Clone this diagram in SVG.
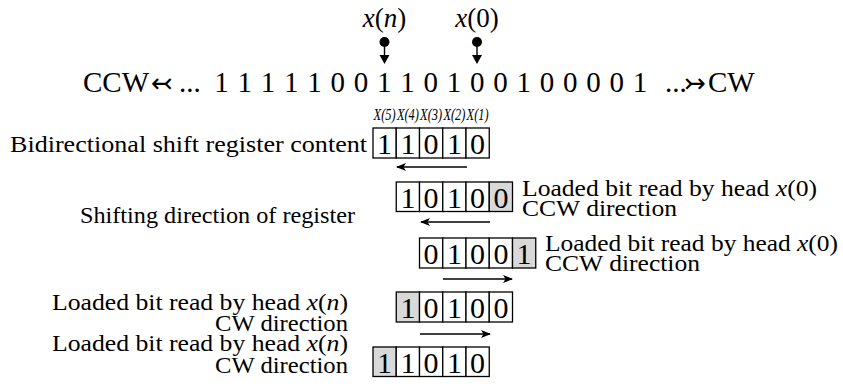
<svg xmlns="http://www.w3.org/2000/svg" width="843" height="387" viewBox="0 0 843 387">
<style>
  .big { font-size: 29px; }
  .lab { font-size: 24px; }
  .dig { font-size: 30px; text-anchor: middle; }
  .xl { font-size: 17px; font-style: italic; text-anchor: middle; }
  .cell { fill: #fff; stroke: #000; stroke-width: 1.3; }
  .g { fill: #d9d9d9; }
  .conn { stroke: #000; stroke-width: 1.4; fill: none; }
</style>
<defs>
  <marker id="ah" viewBox="0 0 10 8" refX="9" refY="4" markerWidth="10" markerHeight="8" markerUnits="userSpaceOnUse" orient="auto">
    <path d="M0,0 L10,4 L0,8 L2.5,4 Z" fill="#000"/>
  </marker>
</defs>
<g font-family="Liberation Serif, Times New Roman, serif" fill="#000">

<g id="tape">
  <text class="big" x="83" y="92">CCW</text>
  <text x="151" y="92" font-family="DejaVu Sans, sans-serif" font-size="26">↢</text>
  <text class="big" x="179" y="92">...</text>
  <g class="big" text-anchor="middle">
    <text x="221.5" y="92">1</text>
    <text x="244.75" y="92">1</text>
    <text x="268" y="92">1</text>
    <text x="291.25" y="92">1</text>
    <text x="314.5" y="92">1</text>
    <text x="337.75" y="92">0</text>
    <text x="361" y="92">0</text>
    <text x="384.25" y="92">1</text>
    <text x="407.5" y="92">1</text>
    <text x="430.75" y="92">0</text>
    <text x="454" y="92">1</text>
    <text x="477.25" y="92">0</text>
    <text x="500.5" y="92">0</text>
    <text x="523.75" y="92">1</text>
    <text x="547" y="92">0</text>
    <text x="570.25" y="92">0</text>
    <text x="593.5" y="92">0</text>
    <text x="616.75" y="92">0</text>
    <text x="640" y="92">1</text>
  </g>
  <text class="big" x="665" y="92">...</text>
  <text x="684" y="92" font-family="DejaVu Sans, sans-serif" font-size="26">↣</text>
  <text class="big" x="708" y="92">CW</text>
</g>

<g id="head-xn">
  <text x="384.5" y="27" font-size="27" text-anchor="middle"><tspan font-style="italic">x</tspan>(<tspan font-style="italic">n</tspan>)</text>
  <circle cx="384.5" cy="42" r="5" fill="#000"/>
  <line x1="384.5" y1="42" x2="384.5" y2="56" class="conn"/>
  <path d="M379.5,55 L389.5,55 L384.5,64 Z" fill="#000"/>
</g>
<g id="head-x0">
  <text x="477" y="27" font-size="27" text-anchor="middle"><tspan font-style="italic">x</tspan>(0)</text>
  <circle cx="477" cy="42" r="5" fill="#000"/>
  <line x1="477" y1="42" x2="477" y2="56" class="conn"/>
  <path d="M472,55 L482,55 L477,64 Z" fill="#000"/>
</g>

<g id="reg1">
  <text class="lab" x="10" y="152" textLength="357" lengthAdjust="spacingAndGlyphs">Bidirectional shift register content</text>
  <g class="xl">
    <text x="384.6" y="120" textLength="22" lengthAdjust="spacingAndGlyphs">X(5)</text>
    <text x="407.9" y="120" textLength="22" lengthAdjust="spacingAndGlyphs">X(4)</text>
    <text x="431.1" y="120" textLength="22" lengthAdjust="spacingAndGlyphs">X(3)</text>
    <text x="454.4" y="120" textLength="22" lengthAdjust="spacingAndGlyphs">X(2)</text>
    <text x="477.6" y="120" textLength="22" lengthAdjust="spacingAndGlyphs">X(1)</text>
  </g>
  <rect class="cell" x="373" y="128" width="23.25" height="30"/>
  <rect class="cell" x="396.25" y="128" width="23.25" height="30"/>
  <rect class="cell" x="419.5" y="128" width="23.25" height="30"/>
  <rect class="cell" x="442.75" y="128" width="23.25" height="30"/>
  <rect class="cell" x="466" y="128" width="23.25" height="30"/>
  <g class="dig">
    <text x="384.6" y="154">1</text><text x="407.9" y="154">1</text><text x="431.1" y="154">0</text><text x="454.4" y="154">1</text><text x="477.6" y="154">0</text>
  </g>
</g>

<g id="reg2">
  <rect class="cell" x="396.25" y="182" width="23.25" height="29.5"/>
  <rect class="cell" x="419.5" y="182" width="23.25" height="29.5"/>
  <rect class="cell" x="442.75" y="182" width="23.25" height="29.5"/>
  <rect class="cell" x="466" y="182" width="23.25" height="29.5"/>
  <rect class="cell g" x="489.25" y="182" width="23.25" height="29.5"/>
  <g class="dig">
    <text x="407.9" y="208">1</text><text x="431.1" y="208">0</text><text x="454.4" y="208">1</text><text x="477.6" y="208">0</text><text x="500.9" y="208">0</text>
  </g>
  <text class="lab" x="522" y="196" textLength="295" lengthAdjust="spacingAndGlyphs">Loaded bit read by head <tspan font-style="italic">x</tspan>(0)</text>
  <text class="lab" x="522" y="216" textLength="155" lengthAdjust="spacingAndGlyphs">CCW direction</text>
</g>

<g id="shift-label">
  <text class="lab" x="80" y="223" textLength="275" lengthAdjust="spacingAndGlyphs">Shifting direction of register</text>
</g>

<g id="reg3">
  <rect class="cell" x="419.5" y="238" width="23.25" height="30"/>
  <rect class="cell" x="442.75" y="238" width="23.25" height="30"/>
  <rect class="cell" x="466" y="238" width="23.25" height="30"/>
  <rect class="cell" x="489.25" y="238" width="23.25" height="30"/>
  <rect class="cell g" x="512.5" y="238" width="23.25" height="30"/>
  <g class="dig">
    <text x="431.1" y="264">0</text><text x="454.4" y="264">1</text><text x="477.6" y="264">0</text><text x="500.9" y="264">0</text><text x="524.1" y="264">1</text>
  </g>
  <text class="lab" x="545" y="251" textLength="293" lengthAdjust="spacingAndGlyphs">Loaded bit read by head <tspan font-style="italic">x</tspan>(0)</text>
  <text class="lab" x="545" y="271" textLength="155" lengthAdjust="spacingAndGlyphs">CCW direction</text>
</g>

<g id="reg4">
  <rect class="cell g" x="396.25" y="292" width="23.25" height="30"/>
  <rect class="cell" x="419.5" y="292" width="23.25" height="30"/>
  <rect class="cell" x="442.75" y="292" width="23.25" height="30"/>
  <rect class="cell" x="466" y="292" width="23.25" height="30"/>
  <rect class="cell" x="489.25" y="292" width="23.25" height="30"/>
  <g class="dig">
    <text x="407.9" y="318">1</text><text x="431.1" y="318">0</text><text x="454.4" y="318">1</text><text x="477.6" y="318">0</text><text x="500.9" y="318">0</text>
  </g>
  <text class="lab" x="52" y="310" textLength="296" lengthAdjust="spacingAndGlyphs">Loaded bit read by head <tspan font-style="italic">x</tspan>(<tspan font-style="italic">n</tspan>)</text>
  <text class="lab" x="215" y="331" textLength="133" lengthAdjust="spacingAndGlyphs">CW direction</text>
</g>

<g id="reg5">
  <rect class="cell g" x="373" y="347" width="23.25" height="29.5"/>
  <rect class="cell" x="396.25" y="347" width="23.25" height="29.5"/>
  <rect class="cell" x="419.5" y="347" width="23.25" height="29.5"/>
  <rect class="cell" x="442.75" y="347" width="23.25" height="29.5"/>
  <rect class="cell" x="466" y="347" width="23.25" height="29.5"/>
  <g class="dig">
    <text x="384.6" y="373">1</text><text x="407.9" y="373">1</text><text x="431.1" y="373">0</text><text x="454.4" y="373">1</text><text x="477.6" y="373">0</text>
  </g>
  <text class="lab" x="52" y="351" textLength="296" lengthAdjust="spacingAndGlyphs">Loaded bit read by head <tspan font-style="italic">x</tspan>(<tspan font-style="italic">n</tspan>)</text>
  <text class="lab" x="215" y="373" textLength="133" lengthAdjust="spacingAndGlyphs">CW direction</text>
</g>

<g id="connectors">
  <line class="conn" x1="467" y1="167" x2="397" y2="167" marker-end="url(#ah)"/>
  <line class="conn" x1="490" y1="222" x2="421" y2="222" marker-end="url(#ah)"/>
  <line class="conn" x1="443" y1="279" x2="512" y2="279" marker-end="url(#ah)"/>
  <line class="conn" x1="420" y1="334" x2="490" y2="334" marker-end="url(#ah)"/>
</g>
</g>
</svg>
